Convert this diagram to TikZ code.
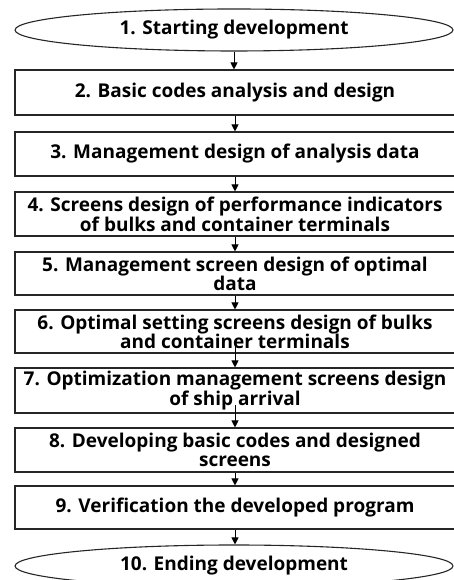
\documentclass[tikz,border=0pt]{standalone}
\usepackage{fontspec}
\setmainfont{Open Sans}
\usetikzlibrary{arrows.meta,shapes.geometric}
\begin{document}
\begin{tikzpicture}[x=1pt,y=1pt,
  stepbox/.style={draw=black!85, line width=1.1pt, rectangle, minimum width=440pt,
    inner sep=0pt, align=center, font=\fontsize{19}{19}\selectfont\bfseries},
  endcap/.style={draw=black!85, line width=1.1pt, ellipse, minimum width=438pt,
    minimum height=42pt, inner sep=0pt, font=\fontsize{19}{19}\selectfont\bfseries},
  flow/.style={line width=1pt, -{Triangle[length=7pt,width=7pt]}}]
  \useasboundingbox (0,0) rectangle (454,580);
  % terminators
  \node[endcap] (a1) at (234,550) {1. Starting development};
  \node[endcap] (a10) at (234,14) {10. Ending development};
  % process steps
  \node[stepbox, minimum height=45pt] (a2) at (235,487.5) {2. Basic codes analysis and design};
  \node[stepbox, minimum height=44pt] (a3) at (235,426) {3. Management design of analysis data};
  \node[stepbox, minimum height=44pt] (a4) at (235,366) {4. Screens design of performance indicators\\of bulks and container terminals};
  \node[stepbox, minimum height=43pt] (a5) at (235,306.5) {5. Management screen design of optimal\\data};
  \node[stepbox, minimum height=43pt] (a6) at (235,248.5) {6. Optimal setting screens design of bulks\\and container terminals};
  \node[stepbox, minimum height=45pt] (a7) at (235,189.5) {7. Optimization management screens design\\of ship arrival};
  \node[stepbox, minimum height=44pt] (a8) at (235,130) {8. Developing basic codes and designed\\screens};
  \node[stepbox, minimum height=43pt] (a9) at (235,72.5) {9. Verification the developed program};
  % connectors
  \draw[flow] (a1.south) -- (a1.south |- a2.north);
  \draw[flow] (a2.south) -- (a2.south |- a3.north);
  \draw[flow] (a3.south) -- (a3.south |- a4.north);
  \draw[flow] (a4.south) -- (a4.south |- a5.north);
  \draw[flow] (a5.south) -- (a5.south |- a6.north);
  \draw[flow] ([yshift=9pt]a6.south) -- (a6.south |- a7.north);
  \draw[flow] ([yshift=9pt]a7.south) -- (a7.south |- a8.north);
  \draw[flow] (a8.south) -- (a8.south |- a9.north);
  \draw[flow] (a9.south) -- (a9.south |- a10.north);
\end{tikzpicture}
\end{document}
